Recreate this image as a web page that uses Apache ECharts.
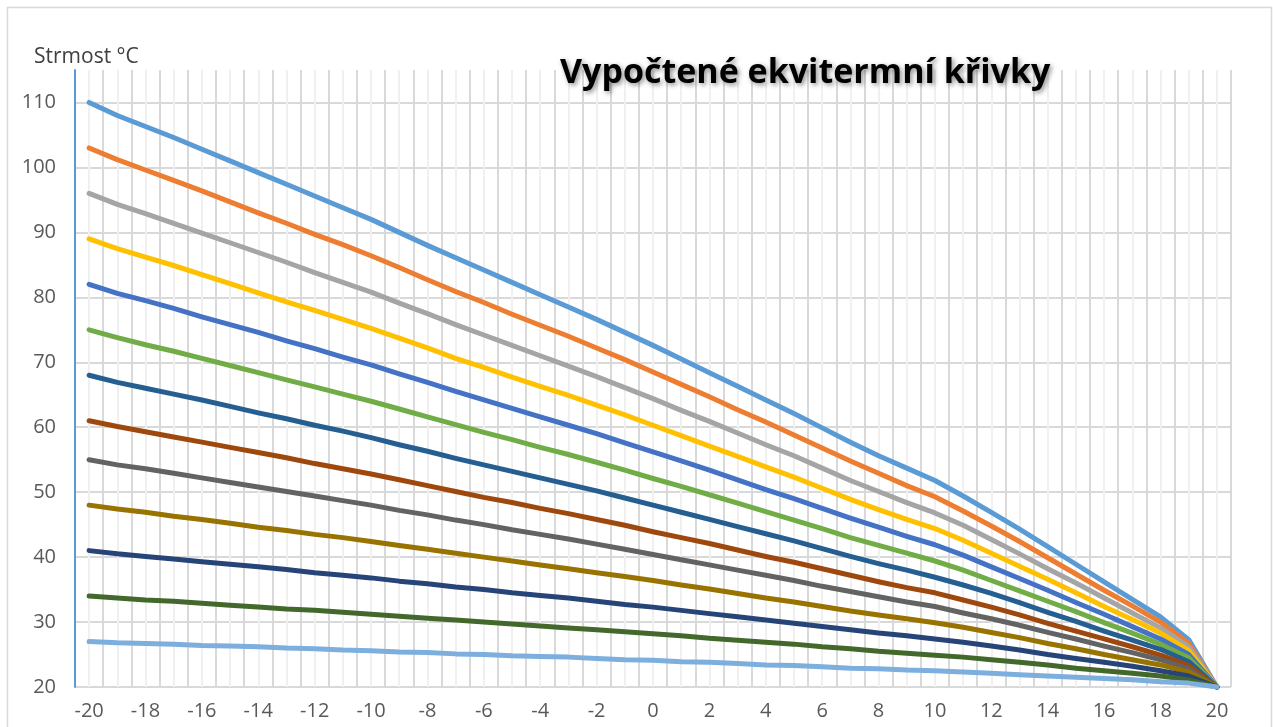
<!DOCTYPE html>
<html>
<head>
<meta charset="utf-8">
<script src="https://cdn.jsdelivr.net/npm/echarts@6/dist/echarts.min.js"></script>
<style>
html,body{margin:0;padding:0;background:#fff;}
#chart{width:1273px;height:727px;}
</style>
</head>
<body>
<div id="chart"></div>
<script>
const titleText = 'Vypočtené ekvitermní křivky';
const yAxisName = 'Strmost °C';
const xValues = [-20,-19,-18,-17,-16,-15,-14,-13,-12,-11,-10,-9,-8,-7,-6,-5,-4,-3,-2,-1,0,1,2,3,4,5,6,7,8,9,10,11,12,13,14,15,16,17,18,19,20];
const yTicks = [20,30,40,50,60,70,80,90,100,110];

const c110 = [110,108,106.3,104.6,102.8,101,99.2,97.4,95.6,93.8,92,90,88,86.1,84.2,82.3,80.4,78.5,76.6,74.6,72.6,70.5,68.4,66.3,64.2,62.1,59.9,57.7,55.6,53.7,51.8,49.4,46.9,44.3,41.6,38.9,36.2,33.5,30.8,27.3,20];
const c103 = [103,101.2,99.6,98.0,96.4,94.7,93.0,91.4,89.7,88.1,86.4,84.6,82.7,80.9,79.2,77.4,75.7,74.0,72.2,70.4,68.5,66.6,64.7,62.7,60.8,58.8,56.8,54.8,52.9,51.0,49.3,47.1,44.8,42.4,39.9,37.4,34.9,32.5,30.0,26.7,20];
const c96 = [96,94.3,92.9,91.4,89.9,88.4,86.9,85.4,83.8,82.3,80.8,79.1,77.5,75.8,74.2,72.6,71.0,69.4,67.8,66.1,64.4,62.6,60.9,59.1,57.3,55.6,53.7,51.8,50.1,48.4,46.8,44.9,42.7,40.5,38.2,36.0,33.7,31.4,29.1,26.2,20];
const c89 = [89,87.5,86.2,84.9,83.5,82.1,80.7,79.3,78.0,76.6,75.2,73.7,72.2,70.6,69.2,67.7,66.3,64.9,63.4,61.9,60.3,58.7,57.1,55.5,53.9,52.3,50.6,48.9,47.3,45.8,44.4,42.6,40.6,38.6,36.6,34.5,32.4,30.4,28.3,25.6,20];
const c82 = [82,80.6,79.5,78.3,77.0,75.8,74.6,73.3,72.1,70.8,69.6,68.2,66.9,65.5,64.2,62.9,61.6,60.3,59.0,57.6,56.2,54.8,53.4,51.9,50.4,49.0,47.5,46.0,44.6,43.2,41.9,40.3,38.5,36.7,34.9,33.0,31.2,29.3,27.4,25.0,20];
const c75 = [75,73.8,72.7,71.7,70.6,69.5,68.4,67.3,66.2,65.1,64.0,62.8,61.6,60.4,59.2,58.1,56.9,55.8,54.6,53.4,52.1,50.9,49.6,48.3,47.0,45.7,44.4,43.0,41.8,40.6,39.4,38.0,36.4,34.8,33.2,31.6,29.9,28.3,26.6,24.5,20];
const c68 = [68,66.9,66.0,65.1,64.2,63.2,62.2,61.3,60.3,59.4,58.4,57.3,56.3,55.2,54.2,53.2,52.2,51.2,50.2,49.1,48.0,46.9,45.8,44.7,43.6,42.5,41.3,40.1,39.0,38.0,36.9,35.7,34.4,33.0,31.5,30.1,28.6,27.2,25.8,23.9,20];
const c61 = [61,60.1,59.3,58.5,57.7,56.9,56.1,55.3,54.4,53.6,52.8,51.9,51.0,50.1,49.2,48.4,47.5,46.7,45.8,44.9,43.9,43.0,42.1,41.1,40.1,39.2,38.2,37.2,36.2,35.3,34.5,33.4,32.3,31.1,29.8,28.6,27.4,26.2,24.9,23.3,20];
const c55 = [55,54.2,53.6,52.9,52.2,51.5,50.8,50.1,49.4,48.7,48.0,47.2,46.5,45.7,45.0,44.2,43.5,42.8,42.0,41.2,40.4,39.6,38.8,38.0,37.2,36.4,35.5,34.7,33.9,33.1,32.4,31.4,30.5,29.5,28.4,27.4,26.3,25.3,24.2,22.8,20];
const c48 = [48,47.4,46.9,46.3,45.8,45.2,44.6,44.1,43.5,43.0,42.4,41.8,41.2,40.6,40.0,39.4,38.8,38.2,37.6,37.0,36.4,35.7,35.1,34.4,33.7,33.1,32.4,31.7,31.1,30.5,29.9,29.2,28.4,27.6,26.7,25.9,25.0,24.2,23.4,22.3,20];
const c41 = [41,40.5,40.1,39.7,39.3,38.9,38.5,38.1,37.6,37.2,36.8,36.3,35.9,35.4,35.0,34.5,34.1,33.7,33.2,32.7,32.3,31.8,31.3,30.8,30.3,29.8,29.3,28.8,28.3,27.9,27.4,26.9,26.3,25.7,25.0,24.4,23.8,23.2,22.5,21.7,20];
const c34 = [34,33.7,33.4,33.2,32.9,32.6,32.3,32.0,31.8,31.5,31.2,30.9,30.6,30.3,30.0,29.7,29.4,29.1,28.8,28.5,28.2,27.9,27.5,27.2,26.9,26.6,26.2,25.9,25.5,25.2,24.9,24.6,24.2,23.8,23.4,22.9,22.5,22.1,21.7,21.1,20];
const c27 = [27,26.8,26.7,26.6,26.4,26.3,26.2,26.0,25.9,25.7,25.6,25.4,25.3,25.1,25.0,24.8,24.7,24.6,24.4,24.2,24.1,23.9,23.8,23.6,23.4,23.3,23.1,22.9,22.8,22.6,22.5,22.3,22.1,21.9,21.7,21.5,21.3,21.1,20.8,20.6,20];

const seriesList = [c110,c103,c96,c89,c82,c75,c68,c61,c55,c48,c41,c34,c27];
const colors = ['#5B9BD5','#ED7D31','#A5A5A5','#FFC000','#4472C4','#70AD47','#255E91','#9E480E','#636363','#997300','#264478','#43682B','#7CAFDD'];

const chart = echarts.init(document.getElementById('chart'), null, {renderer:'canvas'});
const labelFont = {fontFamily:'Open Sans', fontSize:20, color:'#595959'};

chart.setOption({
  animation:false,
  backgroundColor:'#fff',
  title:{
    text:titleText,
    left:555, top:51,
    textStyle:{fontFamily:'Open Sans', fontWeight:'bold', fontSize:34, color:'#000',
      textShadowColor:'rgba(0,0,0,0.45)', textShadowBlur:5, textShadowOffsetX:2, textShadowOffsetY:2}
  },
  graphic:[
    {type:'rect', shape:{x:7.5,y:7.5,width:1264,height:760}, style:{fill:'none', stroke:'#d9d9d9', lineWidth:1.5}, z:-10, silent:true},
    {type:'text', left:34, top:47, style:{text:yAxisName, fontFamily:'Open Sans', fontSize:21, fill:'#404040'}}
  ],
  grid:{left:75, right:42, top:70, bottom:40, containLabel:false},
  xAxis:{
    type:'value', min:-20.5, max:20.5, interval:0.5,
    axisLine:{show:false}, axisTick:{show:false},
    axisLabel:Object.assign({margin:14, showMinLabel:false, showMaxLabel:false,
      formatter:function(v){ return (Math.abs(v % 2) < 1e-9) ? String(v) : ''; }}, labelFont),
    splitLine:{show:true, lineStyle:{color:['#d9d9d9','#f0f0f0'], width:2}}
  },
  yAxis:{
    type:'value', min:20, max:115, interval:10,
    axisLine:{show:true, onZero:false, lineStyle:{color:'#5B9BD5', width:2}},
    axisTick:{show:false},
    axisLabel:Object.assign({margin:19, showMaxLabel:false,
      formatter:function(v){ return yTicks.indexOf(v) >= 0 ? String(v) : ''; }}, labelFont),
    splitLine:{show:true, showMaxLine:false, lineStyle:{color:'#d9d9d9', width:2}}
  },
  series: seriesList.map(function(arr, i){
    return {
      type:'line', name:String(arr[0]),
      data: xValues.map(function(x, j){ return [x, arr[j]]; }),
      showSymbol:false, symbol:'none', smooth:false,
      lineStyle:{color:colors[i], width:5, cap:'round', join:'round'},
      itemStyle:{color:colors[i]},
      z:2+i
    };
  })
});
</script>
</body>
</html>
